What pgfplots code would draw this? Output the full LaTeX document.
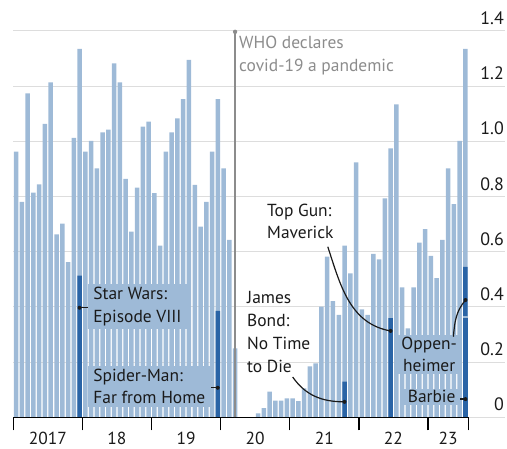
\documentclass[border=0pt]{standalone}
\usepackage{pgfplots}
\pgfplotsset{compat=1.18}
\usepackage{fontspec}
\setmainfont{PT Sans}
\definecolor{lb}{HTML}{9EBAD7}
\definecolor{db}{HTML}{2A64A6}
\definecolor{txt}{HTML}{1A1A1A}
\definecolor{who}{HTML}{8C8C8C}
\definecolor{gridc}{HTML}{DDDDDD}
\begin{document}
\begin{tikzpicture}[font=\fontsize{17.5}{23}\selectfont]
\useasboundingbox (0,0) rectangle (507bp,449bp);
\begin{axis}[
 at={(13.3bp,31.7bp)}, anchor=south west, scale only axis,
 width=491.7bp, height=386.3bp,
 xmin=-0.5, xmax=84.86, ymin=0, ymax=1.4,
 axis line style={draw=none},
 ytick={0,0.2,0.4,0.6,0.8,1.0,1.2,1.4}, yticklabels={},
 ytick style={draw=none},
 ymajorgrids, major grid style={color=gridc, line width=1bp},
 xtick={-0.5,11.5,23.5,35.5,47.5,59.5,71.5,78.5}, xticklabels={},
 xtick pos=left, tick align=outside, major tick length=13bp,
 xtick style={black, line width=1.3bp},
 clip=false,
 ybar, bar width=4.5bp, bar shift=0pt,
]
\addplot[fill=lb, draw=none] coordinates {
(0,0.963) (1,0.781) (2,1.174) (3,0.814) (4,0.844) (5,1.063) (6,1.214) (7,0.663) (8,0.702) (9,0.562) (10,1.013) (11,1.335)
(12,0.963) (13,1.002) (14,0.902) (15,1.033) (16,1.043) (17,1.283) (18,1.214) (19,0.864) (20,0.673) (21,0.832) (22,1.053) (23,1.072)
(24,0.812) (25,0.622) (26,0.963) (27,1.033) (28,1.083) (29,1.153) (30,1.295) (31,0.842) (32,0.691) (33,0.781) (34,0.963) (35,1.153)
(36,0.902) (37,0.643) (38,0.250) (39,0) (40,0) (41,0) (42,0.014) (43,0.033) (44,0.093) (45,0.060) (46,0.060) (47,0.069)
(48,0.069) (49,0.059) (50,0.105) (51,0.185) (52,0.195) (53,0.401) (54,0.582) (55,0.421) (56,0.371) (57,0.622) (58,0.522) (59,0.924)
(60,0.391) (61,0.371) (62,0.592) (63,0.572) (64,0.793) (65,0.975) (66,1.134) (67,0.471) (68,0.322) (69,0.471) (70,0.633) (71,0.682)
(72,0.585) (73,0.504) (74,0.643) (75,0.902) (76,0.773) (77,1.002) (78,1.335)
};
% highlighted films
\addplot[fill=db, draw=none] coordinates {(11,0.513) (35,0.386) (57,0.129) (65,0.359) (78,0.545)};
\addplot[fill=lb, draw=none] coordinates {(78,0.366)};
\addplot[fill=db, draw=none] coordinates {(78,0.361)};

% baseline
\draw[black, line width=1.3bp] (axis cs:-0.5,0) -- (axis cs:78.5,0);

% y tick labels
\foreach \v/\l in {0/0,0.2/0.2,0.4/0.4,0.6/0.6,0.8/0.8,1.0/1.0,1.2/1.2,1.4/1.4}{
  \edef\tmp{\noexpand\node[anchor=base east, inner sep=0pt, text=txt, font=\noexpand\fontsize{18}{22}\noexpand\selectfont] at (axis cs:84.86,\v) [xshift=-1bp, yshift=6.5bp] {\l};}
  \tmp
}
% year labels
\node[anchor=base, inner sep=0, text=txt] at (axis cs:5.5,0) [yshift=-27bp] {2017};
\node[anchor=base, inner sep=0, text=txt] at (axis cs:17.5,0) [yshift=-27bp] {18};
\node[anchor=base, inner sep=0, text=txt] at (axis cs:29.5,0) [yshift=-27bp] {19};
\node[anchor=base, inner sep=0, text=txt] at (axis cs:41.5,0) [yshift=-27bp] {20};
\node[anchor=base, inner sep=0, text=txt] at (axis cs:53.5,0) [yshift=-27bp] {21};
\node[anchor=base, inner sep=0, text=txt] at (axis cs:65.5,0) [yshift=-27bp] {22};
\node[anchor=base, inner sep=0, text=txt] at (axis cs:75,0) [yshift=-27bp] {23};

% WHO line
\draw[who, line width=1.5bp] (axis cs:38,0) -- (axis cs:38,1.397);
\fill[who] (axis cs:38,1.397) circle (2.2bp);
\node[anchor=west, align=left, inner sep=0, text=who] at (axis cs:38.68,1.311) {WHO declares\\covid-19 a pandemic};

% Star Wars
\node[fill=lb, anchor=west, align=left, inner xsep=5bp, inner ysep=3bp, text=txt] (sw) at (axis cs:12.5,0.403) {Star Wars:\\Episode VIII};
\coordinate (swd) at (axis cs:11,0.397);
\draw[txt, line width=1.2bp] (swd) -- (swd -| sw.west);
\fill[txt] (swd) circle (2bp);

% Spider-Man
\node[fill=lb, anchor=west, align=left, inner xsep=5bp, inner ysep=3bp, text=txt] (sm) at (axis cs:12.5,0.112) {Spider-Man:\\Far from Home};
\coordinate (smd) at (axis cs:35,0.107);
\draw[txt, line width=1.2bp] (smd) -- (smd -| sm.east);
\fill[txt] (smd) circle (2bp);

% James Bond
\node[anchor=west, align=left, inner sep=0, text=txt] at (axis cs:40.07,0.31) {James\\Bond:\\No Time\\to Die};
\draw[txt, line width=1.2bp] (axis cs:48,0.146) to[out=-55, in=180] (axis cs:57,0.056);
\fill[txt] (axis cs:57,0.056) circle (2bp);

% Top Gun
\node[anchor=west, align=left, inner sep=0, text=txt] at (axis cs:43.55,0.71) {Top Gun:\\Maverick};
\draw[txt, line width=1.2bp] (axis cs:54.1,0.618) to[out=-72, in=170] (axis cs:65,0.313);
\fill[txt] (axis cs:65,0.313) circle (2bp);

% Oppenheimer
\node[fill=lb, anchor=center, align=center, inner xsep=3bp, inner ysep=2bp, text=txt] at (axis cs:71.7,0.228) {Oppen-\\heimer};
\draw[txt, line width=1.2bp] (axis cs:75.9,0.292) to[out=85, in=230] (axis cs:78,0.425);
\fill[txt] (axis cs:78,0.425) circle (2bp);

% Barbie
\node[fill=lb, anchor=east, align=right, inner xsep=4bp, inner ysep=2bp, text=txt] (bb) at (axis cs:77.0,0.074) {Barbie};
\coordinate (bbd) at (axis cs:78,0.066);
\draw[txt, line width=1.2bp] (bbd) -- (bbd -| bb.east);
\fill[txt] (bbd) circle (2bp);
\end{axis}
\end{tikzpicture}
\end{document}
